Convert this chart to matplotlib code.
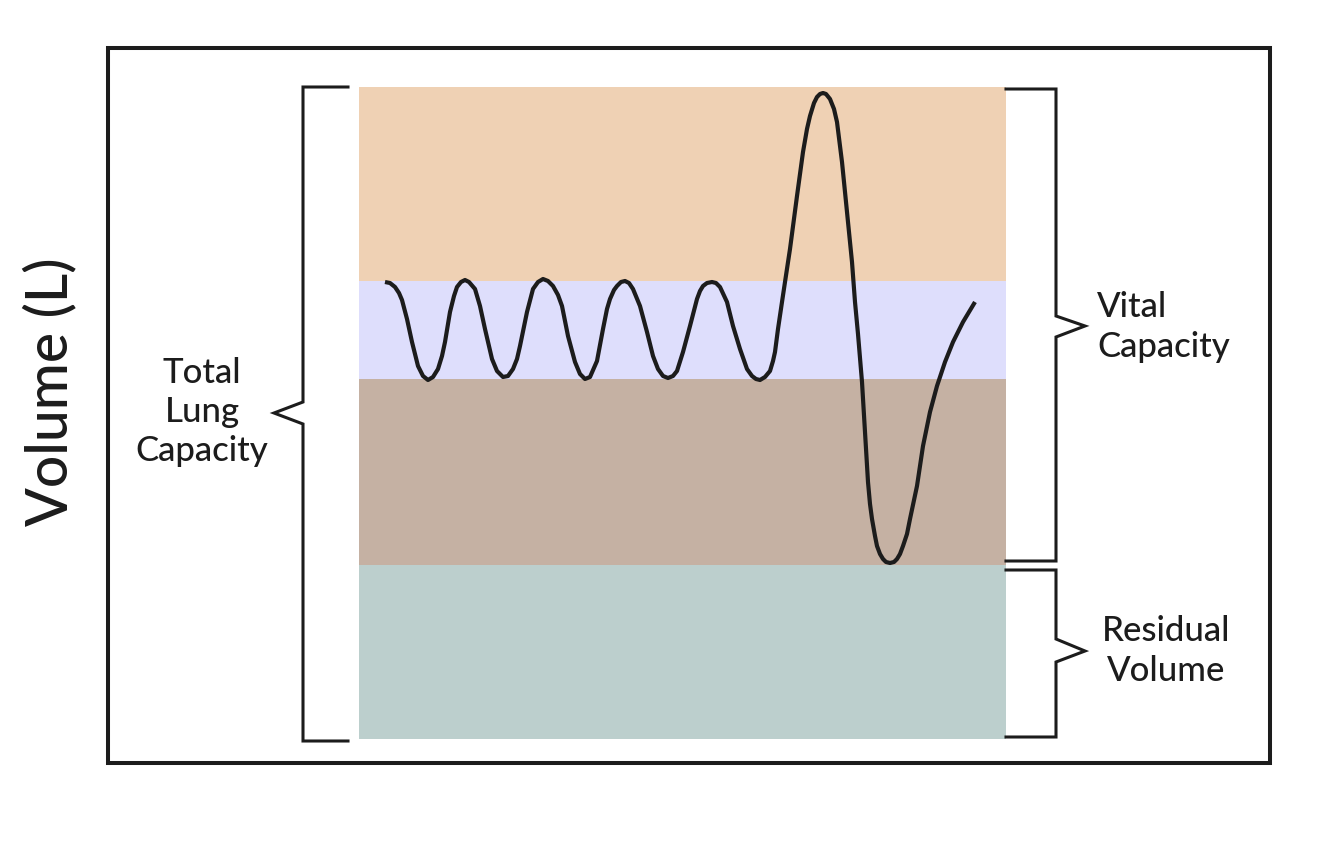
import matplotlib
matplotlib.use("Agg")
import matplotlib.pyplot as plt
from matplotlib.patches import Rectangle

# page coordinates (x to the right, y downwards, pixels)
band_edges = [88, 282, 380, 566, 740]
band_colors = ["#EFD1B4", "#DEDEFC", "#C5B1A3", "#BCCFCD"]
band_left = 359
band_right = 1006

# spirometer trace, points
trace = [(385, 283), (390, 284), (395, 288), (399, 294), (402, 301), (407, 320),
         (412, 343), (418, 367), (423, 377), (428, 381), (433, 378), (438, 370),
         (442, 357), (445, 343), (450, 313), (454, 297), (457, 288), (461, 283),
         (465, 281), (469, 283), (475, 290), (480, 307), (485, 330), (492, 360),
         (497, 372), (503, 378), (508, 377), (513, 370), (517, 360), (520, 347),
         (527, 313), (533, 290), (538, 283), (543, 280), (548, 282), (553, 287),
         (558, 296), (562, 307), (568, 337), (575, 363), (580, 375), (585, 380),
         (590, 378), (597, 362), (603, 330), (607, 310), (610, 300), (614, 291),
         (617, 287), (621, 283), (625, 282), (629, 284), (633, 290), (640, 307),
         (647, 333), (653, 357), (658, 370), (663, 377), (668, 379), (673, 377),
         (677, 372), (683, 353), (690, 327), (697, 300), (700, 292), (703, 287),
         (707, 284), (712, 283), (716, 284), (720, 288), (727, 303), (733, 327),
         (740, 350), (747, 370), (752, 377), (756, 380), (760, 381), (765, 378),
         (770, 372), (773, 362), (775, 353), (778, 330), (782, 303), (785, 283),
         (790, 250), (797, 197), (803, 153), (807, 130), (810, 117), (814, 104),
         (817, 98), (820, 95), (823, 94), (826, 95), (830, 100), (834, 110),
         (837, 123), (842, 163), (847, 213), (852, 263), (855, 303), (858, 335),
         (862, 383), (865, 433), (868, 483), (870, 505), (872, 520), (875, 537),
         (877, 547), (880, 555), (883, 560), (886, 563), (890, 564), (894, 563),
         (897, 560), (900, 555), (903, 547), (907, 535), (910, 520), (917, 487),
         (923, 447), (930, 413), (937, 387), (945, 363), (953, 343), (963, 323),
         (975, 303)]
trace_x = [p[0] for p in trace]
trace_y = [p[1] for p in trace]

# brackets
tlc_x = [348, 303, 303, 274, 303, 303, 348]
tlc_y = [88, 88, 403, 414, 425, 742, 742]
vc_x = [1006, 1056, 1056, 1085, 1056, 1056, 1006]
vc_y = [90, 90, 317, 327, 338, 562, 562]
rv_x = [1006, 1056, 1056, 1085, 1056, 1056, 1006]
rv_y = [571, 571, 640, 652, 663, 738, 738]

plt.rcParams['font.family'] = ['Lato', 'DejaVu Sans']
ink = "#1c1c1c"

fig = plt.figure(figsize=(13.34, 8.53), dpi=100)
ax = fig.add_axes([0, 0, 1, 1])
ax.set_xlim(0, 1334)
ax.set_ylim(853, 0)
ax.axis('off')

# outer frame
ax.add_patch(Rectangle((108, 49), 1162, 715, fill=False, ec=ink, lw=2.9))

# volume bands
for top, bottom, col in zip(band_edges[:-1], band_edges[1:], band_colors):
    ax.bar(band_left, bottom - top, bottom=top, width=band_right - band_left,
           align='edge', color=col, lw=0)

ax.plot(trace_x, trace_y, color=ink, lw=3.0, solid_capstyle='butt',
        solid_joinstyle='round')

for bx, by in [(tlc_x, tlc_y), (vc_x, vc_y), (rv_x, rv_y)]:
    ax.plot(bx, by, color=ink, lw=2.2, solid_joinstyle='miter')

txt = dict(fontsize=25, color=ink, linespacing=1.28, fontweight='medium')
ax.text(202, 412, "Total\nLung\nCapacity", ha='center', va='center', **txt)
ax.text(1097, 327, "Vital\nCapacity", ha='left', va='center', **txt)
ax.text(1166, 651, "Residual\nVolume", ha='center', va='center', **txt)
ax.text(50, 392, "Volume (L)", ha='center', va='center', rotation=90,
        fontsize=41, color=ink, fontweight='medium')

fig.savefig("out.png", dpi=100)
